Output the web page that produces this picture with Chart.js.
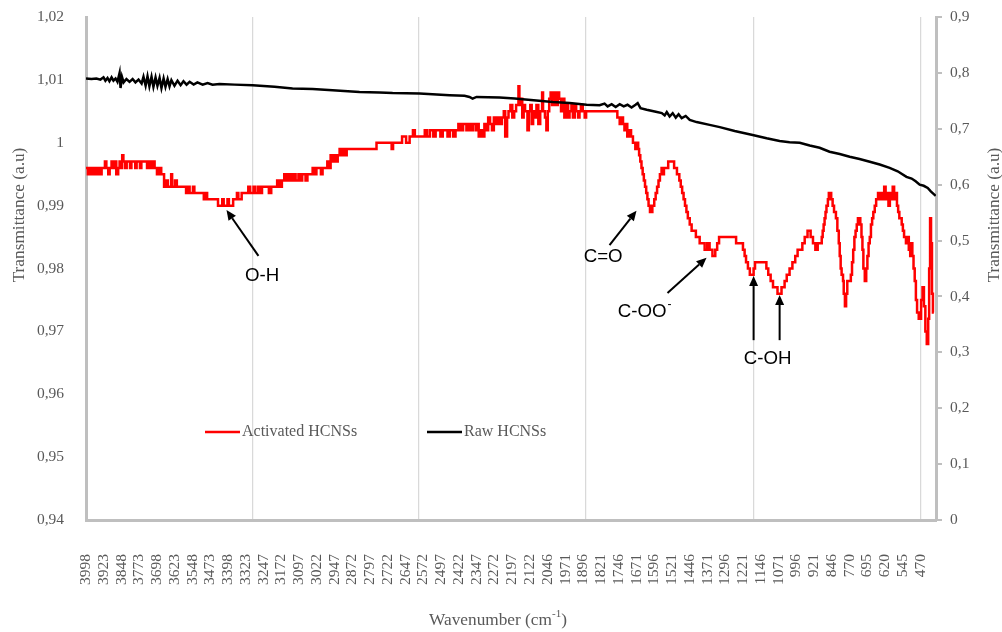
<!DOCTYPE html>
<html>
<head>
<meta charset="utf-8">
<title>FTIR spectra of HCNSs</title>
<script src="https://cdn.jsdelivr.net/npm/chart.js@4/dist/chart.umd.min.js"></script>
<style>
  html, body { margin: 0; padding: 0; background: #ffffff; }
  #wrap { position: relative; width: 1002px; height: 632px; }
</style>
</head>
<body>
<div id="wrap"><canvas id="ftir"></canvas></div>
<script>
// Wavenumbers printed under the x axis (cm-1)
const xTickLabels = [3998, 3923, 3848, 3773, 3698, 3623, 3548, 3473, 3398, 3323, 3247, 3172,
  3097, 3022, 2947, 2872, 2797, 2722, 2647, 2572, 2497, 2422, 2347, 2272, 2197, 2122, 2046,
  1971, 1896, 1821, 1746, 1671, 1596, 1521, 1446, 1371, 1296, 1221, 1146, 1071, 996, 921,
  846, 770, 695, 620, 545, 470];

// Vertical gridline positions (cm-1)
const gridWavenumbers = [3295, 2590, 1884, 1178, 472];

// Left (activated) and right (raw) transmittance ticks
const leftTicks = [0.94, 0.95, 0.96, 0.97, 0.98, 0.99, 1.00, 1.01, 1.02];
const rightTicks = [0, 0.1, 0.2, 0.3, 0.4, 0.5, 0.6, 0.7, 0.8, 0.9];

// Activated HCNSs: each wavenumber starts a run at the given transmittance (stepped trace)
const redWavenumber = [
  3998, 3990, 3984, 3976, 3968, 3958, 3950, 3940, 3932, 3918, 3912, 3904, 3898, 3890, 3884, 3876,
  3870, 3862, 3856, 3850, 3845, 3840, 3832, 3826, 3812, 3806, 3790, 3784, 3770, 3764, 3740, 3734,
  3726, 3716, 3708, 3698, 3690, 3680, 3668, 3660, 3652, 3638, 3634, 3622, 3614, 3575, 3566, 3560,
  3546, 3540, 3500, 3492, 3486, 3440, 3422, 3416, 3400, 3394, 3376, 3360, 3354, 3340, 3312, 3304,
  3290, 3284, 3272, 3262, 3254, 3225, 3215, 3190, 3180, 3170, 3160, 3150, 3140, 3130, 3120, 3112,
  3100, 3092, 3084, 3070, 3062, 3040, 3030, 3024, 3005, 2998, 2978, 2970, 2964, 2956, 2948, 2940,
  2934, 2926, 2918, 2912, 2904, 2896, 2770, 2706, 2700, 2662, 2645, 2630, 2616, 2608, 2566, 2556,
  2544, 2530, 2520, 2500, 2490, 2470, 2460, 2446, 2436, 2424, 2414, 2404, 2390, 2380, 2370, 2362,
  2350, 2344, 2338, 2330, 2322, 2314, 2306, 2298, 2290, 2282, 2274, 2266, 2258, 2250, 2240, 2232,
  2226, 2218, 2212, 2204, 2196, 2188, 2180, 2170, 2166, 2160, 2154, 2148, 2142, 2132, 2126, 2120,
  2114, 2108, 2100, 2094, 2086, 2078, 2070, 2066, 2058, 2052, 2046, 2040, 2034, 2028, 2020, 2012,
  2004, 1998, 1990, 1982, 1976, 1968, 1960, 1954, 1946, 1940, 1932, 1926, 1918, 1912, 1906, 1898,
  1890, 1884, 1752, 1742, 1734, 1728, 1722, 1716, 1710, 1700, 1694, 1686, 1676, 1670, 1664, 1660,
  1655, 1650, 1645, 1640, 1635, 1630, 1625, 1620, 1614, 1604, 1596, 1590, 1584, 1578, 1572, 1565,
  1560, 1555, 1537, 1512, 1500, 1490, 1484, 1478, 1472, 1466, 1460, 1454, 1446, 1438, 1420, 1404,
  1383, 1372, 1362, 1350, 1338, 1330, 1322, 1250, 1221, 1214, 1208, 1200, 1192, 1176, 1170, 1122,
  1114, 1104, 1094, 1075, 1058, 1045, 1036, 1024, 1012, 1000, 990, 970, 960, 948, 935, 925,
  915, 905, 888, 884, 880, 876, 872, 868, 862, 858, 848, 842, 836, 828, 822, 816,
  812, 808, 804, 798, 795, 790, 785, 780, 765, 760, 755, 750, 745, 740, 735, 725,
  720, 716, 712, 706, 700, 695, 690, 685, 680, 675, 670, 664, 658, 650, 644, 638,
  630, 624, 618, 612, 606, 600, 594, 588, 582, 576, 570, 565, 560, 550, 545, 540,
  532, 526, 520, 514, 510, 505, 500, 495, 490, 485, 478, 468, 462, 456, 450, 444,
  438, 434, 430, 426, 422, 418, 414
];
const redTransmittance = [
  0.996, 0.995, 0.996, 0.995, 0.996, 0.995, 0.996, 0.995, 0.996, 0.997, 0.996, 0.995, 0.996, 0.997, 0.996, 0.997,
  0.995, 0.996, 0.997, 0.996, 0.998, 0.997, 0.996, 0.997, 0.996, 0.997, 0.996, 0.997, 0.996, 0.997, 0.996, 0.997,
  0.996, 0.997, 0.996, 0.995, 0.996, 0.995, 0.993, 0.994, 0.993, 0.995, 0.993, 0.994, 0.993, 0.992, 0.993, 0.992,
  0.993, 0.992, 0.991, 0.992, 0.991, 0.990, 0.991, 0.990, 0.991, 0.990, 0.991, 0.992, 0.991, 0.992, 0.993, 0.992,
  0.993, 0.992, 0.993, 0.992, 0.993, 0.992, 0.993, 0.994, 0.993, 0.994, 0.995, 0.994, 0.995, 0.994, 0.995, 0.994,
  0.995, 0.994, 0.995, 0.994, 0.995, 0.996, 0.995, 0.996, 0.995, 0.996, 0.997, 0.996, 0.998, 0.997, 0.998, 0.997,
  0.998, 0.999, 0.998, 0.999, 0.998, 0.999, 1.000, 0.999, 1.000, 1.001, 1.000, 1.001, 1.002, 1.001, 1.002, 1.001,
  1.002, 1.001, 1.002, 1.001, 1.002, 1.001, 1.002, 1.001, 1.002, 1.003, 1.002, 1.003, 1.002, 1.003, 1.002, 1.003,
  1.002, 1.003, 1.001, 1.002, 1.001, 1.003, 1.002, 1.004, 1.003, 1.002, 1.004, 1.003, 1.004, 1.003, 1.004, 1.005,
  1.001, 1.004, 1.005, 1.006, 1.004, 1.005, 1.006, 1.009, 1.006, 1.007, 1.004, 1.006, 1.005, 1.002, 1.005, 1.006,
  1.003, 1.005, 1.004, 1.006, 1.003, 1.005, 1.008, 1.005, 1.004, 1.002, 1.005, 1.007, 1.008, 1.006, 1.008, 1.006,
  1.008, 1.007, 1.005, 1.007, 1.004, 1.006, 1.004, 1.005, 1.006, 1.004, 1.006, 1.005, 1.004, 1.005, 1.006, 1.005,
  1.004, 1.005, 1.004, 1.003, 1.004, 1.003, 1.002, 1.003, 1.001, 1.002, 1.001, 1.000, 0.999, 1.000, 0.999, 0.998,
  0.997, 0.996, 0.995, 0.994, 0.993, 0.992, 0.991, 0.990, 0.989, 0.990, 0.991, 0.992, 0.993, 0.994, 0.995, 0.996,
  0.995, 0.996, 0.997, 0.996, 0.995, 0.994, 0.993, 0.992, 0.991, 0.990, 0.989, 0.988, 0.987, 0.986, 0.985, 0.984,
  0.983, 0.984, 0.983, 0.982, 0.983, 0.984, 0.985, 0.984, 0.983, 0.982, 0.981, 0.980, 0.979, 0.980, 0.981, 0.980,
  0.979, 0.978, 0.977, 0.976, 0.977, 0.978, 0.979, 0.980, 0.981, 0.982, 0.983, 0.984, 0.985, 0.986, 0.985, 0.984,
  0.983, 0.984, 0.985, 0.986, 0.987, 0.988, 0.989, 0.990, 0.991, 0.992, 0.991, 0.990, 0.989, 0.988, 0.986, 0.984,
  0.982, 0.980, 0.979, 0.978, 0.976, 0.974, 0.976, 0.978, 0.979, 0.981, 0.983, 0.985, 0.986, 0.987, 0.988, 0.987,
  0.985, 0.983, 0.980, 0.978, 0.980, 0.982, 0.984, 0.985, 0.987, 0.988, 0.989, 0.990, 0.991, 0.992, 0.991, 0.992,
  0.991, 0.993, 0.991, 0.992, 0.990, 0.992, 0.991, 0.993, 0.991, 0.992, 0.990, 0.989, 0.988, 0.987, 0.986, 0.985,
  0.984, 0.985, 0.983, 0.982, 0.984, 0.982, 0.980, 0.978, 0.975, 0.973, 0.972, 0.975, 0.977, 0.974, 0.970, 0.968,
  0.972, 0.980, 0.988, 0.984, 0.976, 0.973, 0.973
];

// Raw HCNSs (right axis)
const rawWavenumber = [
  3998, 3975, 3954, 3937, 3924, 3916, 3907, 3899, 3890, 3882, 3873, 3865, 3856, 3852, 3846, 3839,
  3827, 3814, 3801, 3789, 3776, 3763, 3755, 3746, 3738, 3730, 3721, 3713, 3704, 3696, 3687, 3679,
  3670, 3662, 3653, 3645, 3637, 3624, 3611, 3598, 3586, 3573, 3560, 3543, 3527, 3505, 3484, 3463,
  3434, 3370, 3294, 3201, 3125, 3040, 2956, 2842, 2757, 2702, 2588, 2461, 2398, 2377, 2364, 2347,
  2250, 2186, 2152, 2025, 1954, 1882, 1827, 1806, 1793, 1776, 1759, 1742, 1725, 1709, 1692, 1675,
  1666, 1654, 1628, 1594, 1564, 1552, 1543, 1531, 1518, 1505, 1493, 1480, 1463, 1446, 1417, 1362,
  1319, 1256, 1180, 1121, 1066, 1024, 981, 939, 897, 855, 812, 770, 728, 685, 643, 601,
  567, 530, 508, 491, 474, 457, 440, 427, 406
];
const rawTransmittance = [
  0.790, 0.789, 0.790, 0.788, 0.792, 0.786, 0.791, 0.785, 0.792, 0.786, 0.790, 0.784, 0.800, 0.773, 0.793, 0.783,
  0.789, 0.784, 0.789, 0.783, 0.788, 0.781, 0.793, 0.777, 0.794, 0.776, 0.793, 0.775, 0.792, 0.777, 0.791, 0.773,
  0.790, 0.775, 0.789, 0.776, 0.787, 0.777, 0.786, 0.778, 0.785, 0.779, 0.784, 0.779, 0.783, 0.779, 0.782, 0.779,
  0.780, 0.779, 0.778, 0.775, 0.772, 0.771, 0.769, 0.766, 0.765, 0.764, 0.763, 0.760, 0.759, 0.757, 0.754, 0.757,
  0.756, 0.754, 0.753, 0.748, 0.746, 0.743, 0.742, 0.745, 0.740, 0.744, 0.739, 0.744, 0.740, 0.743, 0.738, 0.743,
  0.746, 0.737, 0.734, 0.731, 0.728, 0.724, 0.730, 0.722, 0.728, 0.720, 0.726, 0.719, 0.723, 0.716, 0.712, 0.707,
  0.703, 0.696, 0.689, 0.683, 0.678, 0.676, 0.675, 0.670, 0.666, 0.659, 0.655, 0.650, 0.646, 0.641, 0.636, 0.630,
  0.624, 0.614, 0.611, 0.606, 0.600, 0.598, 0.594, 0.588, 0.580
];

// Band assignments: label anchor [cm-1, T] and arrows [fromWn, fromT, toWn, toT] on the left axis
const bands = [
  { text: 'O-H', at: [3254, 0.9788], arrows: [[3269, 0.9820, 3404, 0.9893]] },
  { text: 'C=O', at: [1812, 0.9819], arrows: [[1785, 0.9837, 1671, 0.9892]] },
  { text: 'C-OO', sup: '-', at: [1647, 0.9731], arrows: [[1540, 0.9761, 1375, 0.9817]] },
  { text: 'C-OH', at: [1117, 0.9656], arrows: [[1176, 0.9686, 1176, 0.9788], [1066, 0.9686, 1066, 0.9758]] }
];

const serif = "'Liberation Serif', 'Times New Roman', serif";
const sans = "'Liberation Sans', Arial, sans-serif";
const textGray = '#595959';
const axisGray = '#bfbfbf';

const commaNumber = v => String(Number(Number(v).toFixed(2))).replace('.', ',');

const redPoints = redWavenumber.map((w, i) => ({ x: w, y: redTransmittance[i] }));
const rawPoints = rawWavenumber.map((w, i) => ({ x: w, y: rawTransmittance[i] }));

// Keep tick-label overhang from pushing the plot area inward
const noScalePadding = s => {
  s.paddingTop = 0;
  s.paddingBottom = 0;
  s.paddingLeft = 0;
  s.paddingRight = 0;
};

function drawArrow(ctx, x1, y1, x2, y2) {
  const head = 10, half = 4.5;
  const a = Math.atan2(y2 - y1, x2 - x1);
  const bx = x2 - head * Math.cos(a), by = y2 - head * Math.sin(a);
  ctx.beginPath();
  ctx.moveTo(x1, y1);
  ctx.lineTo(bx, by);
  ctx.stroke();
  ctx.beginPath();
  ctx.moveTo(x2, y2);
  ctx.lineTo(bx + half * Math.sin(a), by - half * Math.cos(a));
  ctx.lineTo(bx - half * Math.sin(a), by + half * Math.cos(a));
  ctx.closePath();
  ctx.fill();
}

// Arrows and band names, placed through the x / left-y scales
const bandLabels = {
  id: 'bandLabels',
  afterDatasetsDraw(chart) {
    const { ctx, scales: { x, y } } = chart;
    ctx.save();
    ctx.strokeStyle = '#000';
    ctx.fillStyle = '#000';
    ctx.lineWidth = 2;
    bands.forEach(b => {
      b.arrows.forEach(a => drawArrow(ctx,
        x.getPixelForValue(a[0]), y.getPixelForValue(a[1]),
        x.getPixelForValue(a[2]), y.getPixelForValue(a[3])));
      const tx = x.getPixelForValue(b.at[0]);
      const ty = y.getPixelForValue(b.at[1]);
      ctx.font = '18.7px ' + sans;
      ctx.textAlign = 'center';
      ctx.textBaseline = 'middle';
      ctx.fillText(b.text, tx, ty);
      if (b.sup) {
        const w = ctx.measureText(b.text).width;
        ctx.font = '12px ' + sans;
        ctx.textAlign = 'left';
        ctx.fillText(b.sup, tx + w / 2 + 1, ty - 7);
      }
    });
    ctx.restore();
  }
};

// Legend drawn inside the plot area
const insideLegend = {
  id: 'insideLegend',
  afterDraw(chart, args, opts) {
    const { ctx } = chart;
    ctx.save();
    ctx.font = '16px ' + serif;
    ctx.textAlign = 'left';
    ctx.textBaseline = 'middle';
    chart.data.datasets.forEach((ds, i) => {
      const x0 = opts.starts[i], y0 = opts.y;
      ctx.strokeStyle = ds.borderColor;
      ctx.lineWidth = 2.5;
      ctx.beginPath();
      ctx.moveTo(x0, y0);
      ctx.lineTo(x0 + opts.sample, y0);
      ctx.stroke();
      ctx.fillStyle = textGray;
      ctx.fillText(ds.label, x0 + opts.sample + 2, y0);
    });
    ctx.restore();
  }
};

// Axis titles
const axisTitles = {
  id: 'axisTitles',
  afterDraw(chart, args, opts) {
    const { ctx } = chart;
    ctx.save();
    ctx.fillStyle = textGray;
    ctx.font = '17.3px ' + serif;
    ctx.textAlign = 'center';
    ctx.textBaseline = 'middle';
    opts.yTitles.forEach(([px, py]) => {
      ctx.save();
      ctx.translate(px, py);
      ctx.rotate(-Math.PI / 2);
      ctx.fillText('Transmittance (a.u)', 0, 0);
      ctx.restore();
    });
    const main1 = 'Wavenumber (cm', sup = '-1', main2 = ')';
    ctx.textAlign = 'left';
    const w1 = ctx.measureText(main1).width;
    const w2 = ctx.measureText(main2).width;
    ctx.font = '11px ' + serif;
    const ws = ctx.measureText(sup).width;
    const sx = opts.xTitle[0] - (w1 + ws + w2) / 2;
    const sy = opts.xTitle[1];
    ctx.font = '17.3px ' + serif;
    ctx.fillText(main1, sx, sy);
    ctx.font = '11px ' + serif;
    ctx.fillText(sup, sx + w1, sy - 6);
    ctx.font = '17.3px ' + serif;
    ctx.fillText(main2, sx + w1 + ws, sy);
    ctx.restore();
  }
};

const tickFont = { family: serif, size: 15.5 };

new Chart(document.getElementById('ftir'), {
  type: 'line',
  data: {
    datasets: [
      {
        label: 'Activated HCNSs',
        data: redPoints,
        xAxisID: 'x',
        yAxisID: 'y',
        borderColor: '#ff0000',
        borderWidth: 2.5,
        stepped: true,
        pointRadius: 0,
        fill: false,
        order: 1
      },
      {
        label: 'Raw HCNSs',
        data: rawPoints,
        xAxisID: 'x',
        yAxisID: 'y1',
        borderColor: '#000000',
        borderWidth: 2.5,
        pointRadius: 0,
        tension: 0,
        fill: false,
        order: 0
      }
    ]
  },
  options: {
    responsive: true,
    maintainAspectRatio: false,
    animation: false,
    events: [],
    layout: { padding: { top: 17, left: 0, right: 0, bottom: 0 }, autoPadding: false },
    plugins: {
      legend: { display: false },
      tooltip: { enabled: false },
      insideLegend: { starts: [205, 427], y: 432, sample: 35 },
      axisTitles: { yTitles: [[19, 215], [994, 215]], xTitle: [498, 620] }
    },
    scales: {
      x: {
        type: 'linear',
        axis: 'x',
        position: 'bottom',
        reverse: true,
        min: 405,
        max: 3998,
        afterBuildTicks: s => { s.ticks = xTickLabels.map(v => ({ value: v })); },
        afterFit: s => { s.height = 112; noScalePadding(s); },
        grid: { display: false },
        border: { display: true, color: axisGray, width: 3 },
        ticks: {
          autoSkip: false,
          minRotation: 90,
          maxRotation: 90,
          padding: 26,
          color: textGray,
          font: tickFont,
          callback: v => String(v)
        }
      },
      xGrid: {
        type: 'linear',
        axis: 'x',
        position: 'bottom',
        reverse: true,
        min: 405,
        max: 3998,
        afterBuildTicks: s => { s.ticks = gridWavenumbers.map(v => ({ value: v })); },
        afterFit: s => { s.height = 0; noScalePadding(s); },
        grid: { display: true, drawTicks: false, color: '#d9d9d9', lineWidth: 1.25 },
        border: { display: false },
        ticks: { display: false }
      },
      y: {
        type: 'linear',
        position: 'left',
        min: 0.94,
        max: 1.02,
        afterBuildTicks: s => { s.ticks = leftTicks.map(v => ({ value: v })); },
        afterFit: s => { s.width = 86; noScalePadding(s); },
        grid: { display: false },
        border: { display: true, color: axisGray, width: 3 },
        ticks: { padding: 14, color: textGray, font: tickFont, callback: commaNumber }
      },
      y1: {
        type: 'linear',
        position: 'right',
        min: 0,
        max: 0.9,
        afterBuildTicks: s => { s.ticks = rightTicks.map(v => ({ value: v })); },
        afterFit: s => { s.width = 66; noScalePadding(s); },
        grid: { drawOnChartArea: false, drawTicks: true, tickLength: 6, color: axisGray, lineWidth: 2 },
        border: { display: true, color: axisGray, width: 3 },
        ticks: { padding: 8, color: textGray, font: tickFont, callback: commaNumber }
      }
    }
  },
  plugins: [bandLabels, insideLegend, axisTitles]
});
</script>
</body>
</html>
